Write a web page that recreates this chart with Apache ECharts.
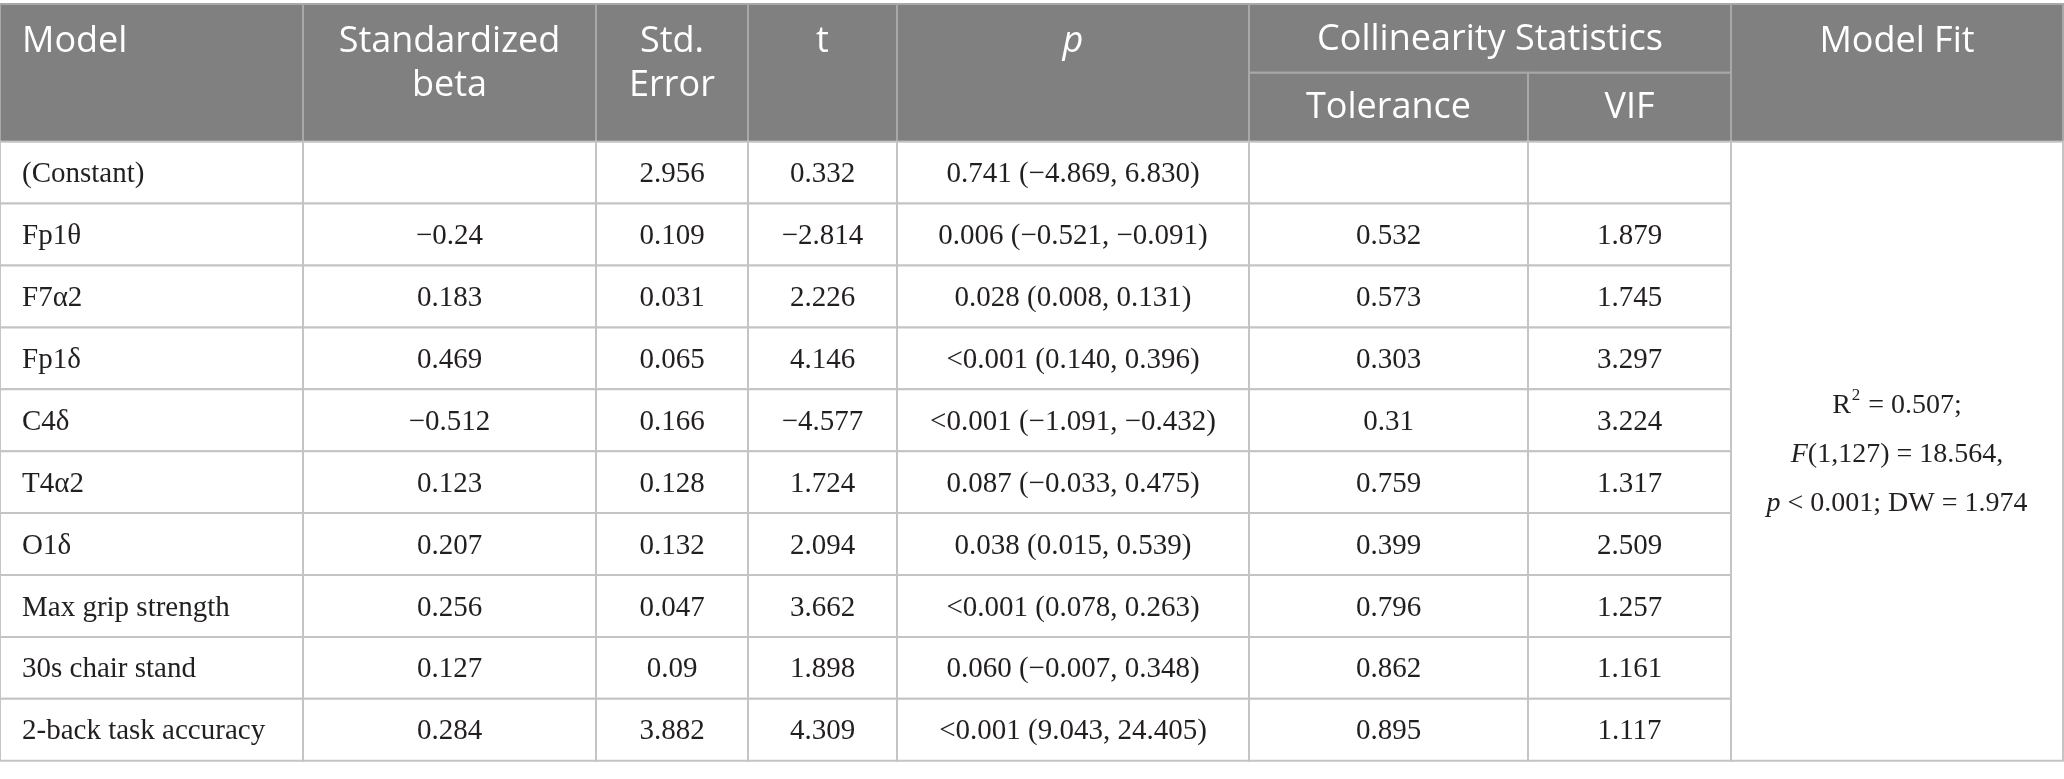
<!DOCTYPE html>
<html>
<head>
<meta charset="utf-8">
<script src="https://cdn.jsdelivr.net/npm/echarts@6/dist/echarts.min.js"></script>
<style>
html, body { margin: 0; padding: 0; background: #fff; }
#box { width: 2064px; height: 779px; }
</style>
</head>
<body>
<div id="box"></div>
<script>
// table values, one array per column
var models = ['(Constant)', 'Fp1θ', 'F7α2', 'Fp1δ', 'C4δ', 'T4α2', 'O1δ', 'Max grip strength', '30s chair stand', '2-back task accuracy'];
var beta = ['', '−0.24', '0.183', '0.469', '−0.512', '0.123', '0.207', '0.256', '0.127', '0.284'];
var stdError = ['2.956', '0.109', '0.031', '0.065', '0.166', '0.128', '0.132', '0.047', '0.09', '3.882'];
var tValues = ['0.332', '−2.814', '2.226', '4.146', '−4.577', '1.724', '2.094', '3.662', '1.898', '4.309'];
var pValues = ['0.741', '0.006', '0.028', '<0.001', '<0.001', '0.087', '0.038', '<0.001', '0.060', '<0.001'];
var ciLow = ['−4.869', '−0.521', '0.008', '0.140', '−1.091', '−0.033', '0.015', '0.078', '−0.007', '9.043'];
var ciHigh = ['6.830', '−0.091', '0.131', '0.396', '−0.432', '0.475', '0.539', '0.263', '0.348', '24.405'];
var tolerance = ['', '0.532', '0.573', '0.303', '0.31', '0.759', '0.399', '0.796', '0.862', '0.895'];
var vif = ['', '1.879', '1.745', '3.297', '3.224', '1.317', '2.509', '1.257', '1.161', '1.117'];

// model fit block
var rSquared = '0.507';
var fDf = '1,127';
var fValue = '18.564';
var fitP = '< 0.001';
var dw = '1.974';

// header labels
var headerLabels = ['Model', 'Standardized\nbeta', 'Std.\nError', 't', '{i|p}', 'Collinearity Statistics', 'Model Fit'];
var subHeaderLabels = ['Tolerance', 'VIF'];

// layout
var colEdges = [0, 303, 596, 748, 897, 1249, 1528, 1731, 2063];
var headTop = 4, headMid = 72.7, headBottom = 141.7;
var serif = '"Liberation Serif", "DejaVu Serif", serif';
var sans = '"Open Sans", "Noto Sans", sans-serif';
var lineColor = '#c4c4c4';

var columns = [models, beta, stdError, tValues, null, tolerance, vif];
var cells = [];
models.forEach(function (m, r) {
    for (var c = 0; c < columns.length; c++) {
        var txt = c === 4 ? pValues[r] + ' (' + ciLow[r] + ', ' + ciHigh[r] + ')' : columns[c][r];
        cells.push({ value: [c, r], text: txt });
    }
});

// header cells (graphic)
var graphic = [];
function headCell(x0, x1, y0, y1) {
    graphic.push({
        type: 'rect',
        shape: { x: x0, y: y0, width: x1 - x0, height: y1 - y0 },
        style: { fill: '#808080', stroke: '#a8a8a8', lineWidth: 2 }
    });
}
function headText(txt, x, y, align, vAlign) {
    graphic.push({
        type: 'text',
        x: x, y: y,
        style: {
            text: txt, fill: '#fff', align: align, verticalAlign: vAlign,
            fontFamily: sans, fontSize: 36, lineHeight: 44,
            rich: { i: { fontStyle: 'italic', fontFamily: sans, fontSize: 36, fill: '#fff' } }
        },
        z: 10
    });
}
[0, 1, 2, 3, 4].forEach(function (c) {
    headCell(colEdges[c], colEdges[c + 1], headTop, headBottom);
    var align = c === 0 ? 'left' : 'center';
    var x = c === 0 ? colEdges[c] + 22 : (colEdges[c] + colEdges[c + 1]) / 2;
    headText(headerLabels[c], x, headTop + 16, align, 'top');
});
headCell(colEdges[5], colEdges[7], headTop, headMid);
headText(headerLabels[5], (colEdges[5] + colEdges[7]) / 2, (headTop + headMid) / 2 + 1, 'center', 'middle');
headCell(colEdges[5], colEdges[6], headMid, headBottom);
headText(subHeaderLabels[0], (colEdges[5] + colEdges[6]) / 2, (headMid + headBottom) / 2 + 1, 'center', 'middle');
headCell(colEdges[6], colEdges[7], headMid, headBottom);
headText(subHeaderLabels[1], (colEdges[6] + colEdges[7]) / 2, (headMid + headBottom) / 2 + 1, 'center', 'middle');
headCell(colEdges[7], colEdges[8], headTop, headBottom);
headText(headerLabels[6], (colEdges[7] + colEdges[8]) / 2, headTop + 16, 'center', 'top');

var chart = echarts.init(document.getElementById('box'));
var option = {
    animation: false,
    backgroundColor: '#fff',
    grid: { left: 0, right: 0, top: headBottom, bottom: 779 - 760.7 },
    xAxis: { type: 'value', min: 0, max: 2064, show: false },
    yAxis: { type: 'category', data: models, inverse: true, show: false },
    graphic: graphic,
    series: [
        {
            type: 'custom',
            data: cells,
            renderItem: function (params, api) {
                var cell = cells[params.dataIndex];
                var c = cell.value[0], r = cell.value[1];
                var p0 = api.coord([colEdges[c], r]);
                var p1 = api.coord([colEdges[c + 1], r]);
                var h = api.size([0, 1])[1];
                return {
                    type: 'group',
                    children: [
                        {
                            type: 'rect',
                            shape: { x: p0[0], y: p0[1] - h / 2, width: p1[0] - p0[0], height: h },
                            style: { fill: '#fff', stroke: lineColor, lineWidth: 2 }
                        },
                        {
                            type: 'text',
                            x: c === 0 ? p0[0] + 22 : (p0[0] + p1[0]) / 2,
                            y: p0[1] + 2,
                            style: {
                                text: cell.text, fill: '#231f20',
                                align: c === 0 ? 'left' : 'center', verticalAlign: 'middle',
                                fontFamily: serif, fontSize: 29
                            }
                        }
                    ]
                };
            }
        },
        {
            type: 'custom',
            data: [[7, 0]],
            renderItem: function (params, api) {
                var h = api.size([0, 1])[1];
                var top = api.coord([colEdges[7], 0]);
                var bot = api.coord([colEdges[8], models.length - 1]);
                var y0 = top[1] - h / 2, y1 = bot[1] + h / 2;
                var txt = '{n|R}{sup|2}{n| = ' + rSquared + ';}\n' +
                    '{i|F}{n|(' + fDf + ') = ' + fValue + ',}\n' +
                    '{i|p}{n| ' + fitP + '; DW = ' + dw + '}';
                return {
                    type: 'group',
                    children: [
                        {
                            type: 'rect',
                            shape: { x: top[0], y: y0, width: bot[0] - top[0], height: y1 - y0 },
                            style: { fill: '#fff', stroke: lineColor, lineWidth: 2 }
                        },
                        {
                            type: 'text',
                            x: (top[0] + bot[0]) / 2,
                            y: (y0 + y1) / 2 + 3,
                            style: {
                                text: txt, fill: '#231f20', align: 'center', verticalAlign: 'middle',
                                fontFamily: serif, fontSize: 28, lineHeight: 49,
                                rich: {
                                    n: { fontFamily: serif, fontSize: 28, lineHeight: 49, fill: '#231f20' },
                                    i: { fontFamily: serif, fontSize: 28, lineHeight: 49, fontStyle: 'italic', fill: '#231f20' },
                                    sup: { fontFamily: serif, fontSize: 17, lineHeight: 49, fill: '#231f20', verticalAlign: 'top', padding: [6, 1, 0, 1] }
                                }
                            }
                        }
                    ]
                };
            }
        }
    ]
};
chart.setOption(option);
</script>
</body>
</html>
